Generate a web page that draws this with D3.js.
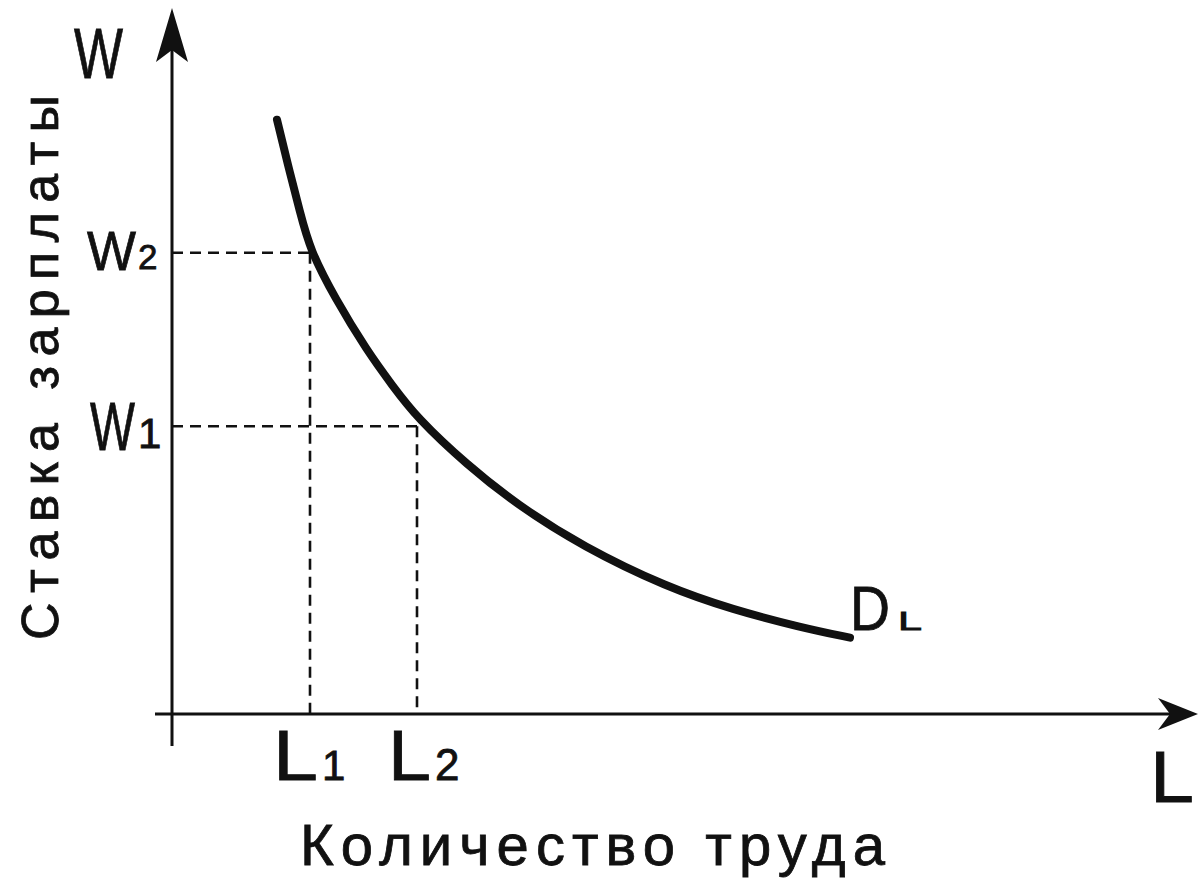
<!DOCTYPE html>
<html>
<head>
<meta charset="utf-8">
<script src="https://cdn.jsdelivr.net/npm/d3@7"></script>
<style>
  html, body { margin: 0; padding: 0; background: #fff; }
  svg { display: block; }
  text { font-family: "Liberation Sans", Arial, sans-serif; fill: #111; stroke: #111; stroke-width: 0.8px; }
</style>
</head>
<body>
<div id="chart"></div>
<script>
// Labour demand curve D_L (arbitrary units)
const curveL = [10.5, 11.6, 12.8, 13.8, 16.3, 19.5, 22.0, 24.5, 29.5, 34.5, 41.1, 49.5, 56.1, 62.8, 67.8];
const curveW = [84.9, 78.4, 71.7, 66.3, 59.4, 51.9, 47.0, 42.3, 35.6, 29.9, 23.9, 18.1, 14.9, 12.4, 10.9];

// marked points: (L1, W2) and (L2, W1)
const markL = [13.8, 24.5];
const markW = [65.9, 41.1];

const W = 1198, H = 878;
const INK = "#111";

const x = d3.scaleLinear().domain([0, 100]).range([172, 1172]);
const y = d3.scaleLinear().domain([0, 100]).range([714, 14]);

const svg = d3.select("#chart").append("svg")
  .attr("width", W).attr("height", H);

// ── axes ────────────────────────────────────────────────
svg.append("line")
  .attr("x1", x(0)).attr("x2", x(0))
  .attr("y1", 20).attr("y2", 746)
  .attr("stroke", INK).attr("stroke-width", 3);

svg.append("line")
  .attr("x1", 155).attr("x2", 1190)
  .attr("y1", y(0)).attr("y2", y(0))
  .attr("stroke", INK).attr("stroke-width", 3);

// arrow heads
const ax = x(0), ay = y(0);
svg.append("path")
  .attr("d", `M${ax},8 L${ax + 16},62 L${ax},50 L${ax - 16},62 Z`)
  .attr("fill", INK);
svg.append("path")
  .attr("d", `M1198,${ay} L1158,${ay - 16} L1170,${ay} L1158,${ay + 16} Z`)
  .attr("fill", INK);

// ── dashed guides ───────────────────────────────────────
markL.forEach((l, i) => {
  const w = markW[i];
  svg.append("line")
    .attr("x1", x(0)).attr("x2", x(l))
    .attr("y1", y(w)).attr("y2", y(w))
    .attr("stroke", INK).attr("stroke-width", 2.6)
    .attr("stroke-dasharray", "11,7");
  svg.append("line")
    .attr("x1", x(l)).attr("x2", x(l))
    .attr("y1", y(w)).attr("y2", y(0))
    .attr("stroke", INK).attr("stroke-width", 2.6)
    .attr("stroke-dasharray", "11,7");
});

// ── demand curve ────────────────────────────────────────
const pts = curveL.map((l, i) => [l, curveW[i]]);
svg.append("path")
  .datum(pts)
  .attr("d", d3.line().x(d => x(d[0])).y(d => y(d[1])).curve(d3.curveBasis))
  .attr("fill", "none").attr("stroke", INK)
  .attr("stroke-width", 8).attr("stroke-linecap", "round");

// ── labels ──────────────────────────────────────────────
// one glyph, scaled horizontally to a given advance width
function glyph(px, py, str, size, len) {
  const t = svg.append("text").attr("x", 0).attr("y", 0)
    .style("font-size", size + "px").text(str);
  const sx = len ? len / t.node().getComputedTextLength() : 1;
  t.attr("transform", `translate(${px},${py}) scale(${sx},1)`);
  return t;
}

glyph(74, 78, "W", 70, 49);

glyph(87, 270, "W", 56, 49);
glyph(138, 269, "2", 35);

glyph(90, 450, "W", 68, 45);
glyph(138, 448, "1", 42);

glyph(273, 780, "L", 70, 45);
glyph(322, 780, "1", 42);

glyph(388, 780, "L", 70, 43);
glyph(435, 780, "2", 44);

glyph(1150, 802, "L", 72, 44);

glyph(850, 630, "D", 63, 40);
glyph(898, 630, "L", 25, 24);

svg.append("text")
  .attr("transform", "translate(58,640) rotate(-90)")
  .attr("x", 0).attr("y", 0)
  .attr("textLength", 545).attr("lengthAdjust", "spacing")
  .style("font-size", "52px")
  .text("Ставка зарплаты");

svg.append("text")
  .attr("x", 300).attr("y", 865)
  .attr("textLength", 585).attr("lengthAdjust", "spacing")
  .style("font-size", "58px")
  .text("Количество труда");
</script>
</body>
</html>
